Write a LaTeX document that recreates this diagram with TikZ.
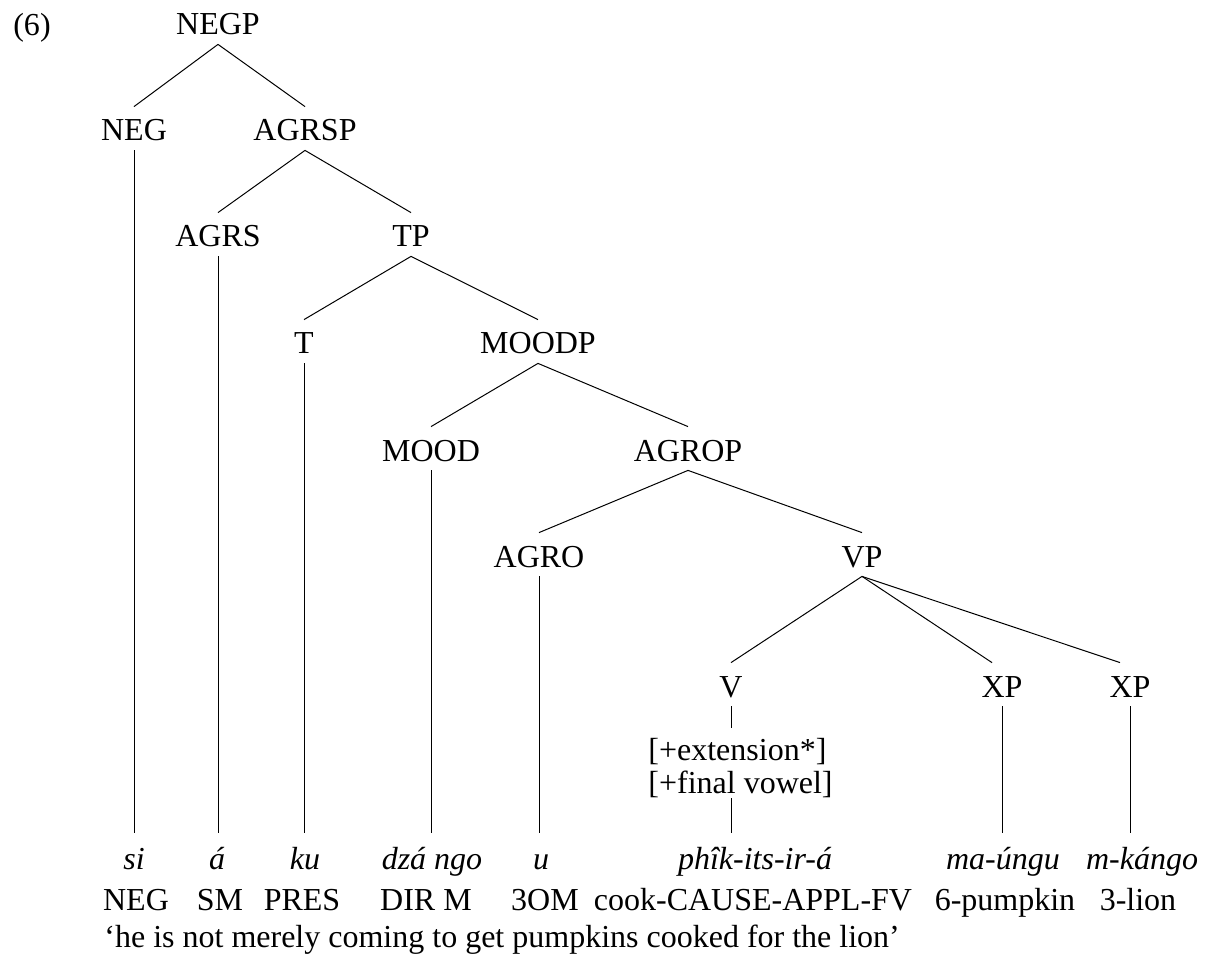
\documentclass[tikz,border=0pt]{standalone}
\usepackage{fontspec}
\setmainfont{Liberation Serif}
\usetikzlibrary{calc}
\tikzset{
  cat/.style={anchor=base, inner xsep=0pt, inner ysep=0pt, text height=17pt, text depth=4.5pt},
  leaf/.style={anchor=base, inner sep=0pt, text height=18pt, text depth=0pt, font=\itshape},
  gloss/.style={anchor=base, inner sep=0pt},
  feat/.style={anchor=north west, inner sep=0pt, align=left},
  branch/.style={line width=0.5pt},
}
\begin{document}
\fontsize{16}{16.5}\selectfont
\begin{tikzpicture}[x=0.5pt, y=-0.5pt]
  \path[use as bounding box] (0,0) rectangle (1208,956);

  % example number
  \node[gloss] (num) at (32,36) {(6)};

  % phrase structure
  \node[cat] (negp)  at (218,35)  {NEGP};
  \node[cat] (neg)   at (134,141) {NEG};
  \node[cat] (agrsp) at (305,141) {AGRSP};
  \node[cat] (agrs)  at (218,247) {AGRS};
  \node[cat] (tp)    at (411,247) {TP};
  \node[cat] (t)     at (304,354) {T};
  \node[cat] (moodp) at (538,354) {MOODP};
  \node[cat] (mood)  at (431,461) {MOOD};
  \node[cat] (agrop) at (688,461) {AGROP};
  \node[cat] (agro)  at (539,567) {AGRO};
  \node[cat] (vp)    at (862,567) {VP};
  \node[cat] (v)     at (731,697) {V};
  \node[cat] (xpa)   at (1002,697) {XP};
  \node[cat] (xpb)   at (1130,697) {XP};

  \node[feat] (feat) at (648,738) {{[+extension*]}\\{[+final vowel]}};

  % words
  \node[leaf] (w1) at (134,869)  {si};
  \node[leaf] (w2) at (217,869)  {á};
  \node[leaf] (w3) at (305,869)  {ku};
  \node[leaf] (w4) at (432,869)  {dzá ngo};
  \node[leaf] (w5) at (541,869)  {u};
  \node[leaf] (w6) at (755,869)  {phîk-its-ir-á};
  \node[leaf] (w7) at (1003,869) {ma-úngu};
  \node[leaf] (w8) at (1142,869) {m-kángo};

  % glosses
  \node[gloss] (g1) at (136,910)  {NEG};
  \node[gloss] (g2) at (220,910)  {SM};
  \node[gloss] (g3) at (302,910)  {PRES};
  \node[gloss] (g4) at (426,910)  {DIR M};
  \node[gloss] (g5) at (545,910)  {3OM};
  \node[gloss] (g6) at (753,910)  {cook-CAUSE-APPL-FV};
  \node[gloss] (g7) at (1005,910) {6-pumpkin};
  \node[gloss] (g8) at (1138,910) {3-lion};

  % free translation
  \node[gloss, anchor=base west] (trans) at (104,947)
    {‘he is not merely coming to get pumpkins cooked for the lion’};

  % branches
  \draw[branch] (negp.south) -- (neg.north);
  \draw[branch] (negp.south) -- (agrsp.north);
  \draw[branch] (agrsp.south) -- (agrs.north);
  \draw[branch] (agrsp.south) -- (tp.north);
  \draw[branch] (tp.south) -- (t.north);
  \draw[branch] (tp.south) -- (moodp.north);
  \draw[branch] (moodp.south) -- (mood.north);
  \draw[branch] (moodp.south) -- (agrop.north);
  \draw[branch] (agrop.south) -- (agro.north);
  \draw[branch] (agrop.south) -- (vp.north);
  \draw[branch] (vp.south) -- (v.north);
  \draw[branch] (vp.south) -- ([xshift=-5pt]xpa.north);
  \draw[branch] (vp.south) -- ([xshift=-5pt]xpb.north);

  % heads down to the words
  \draw[branch] (neg.south)  -- (neg.south |- w1.north);
  \draw[branch] (agrs.south) -- (agrs.south |- w2.north);
  \draw[branch] (t.south)    -- (t.south |- w3.north);
  \draw[branch] (mood.south) -- (mood.south |- w4.north);
  \draw[branch] (agro.south) -- (agro.south |- w5.north);
  \draw[branch] (v.south)    -- ($(v.south |- feat.north)+(0,-10)$);
  \draw[branch] (feat.south -| v.south) -- (v.south |- w6.north);
  \draw[branch] (xpa.south)  -- (xpa.south |- w7.north);
  \draw[branch] (xpb.south)  -- (xpb.south |- w8.north);
\end{tikzpicture}
\end{document}
